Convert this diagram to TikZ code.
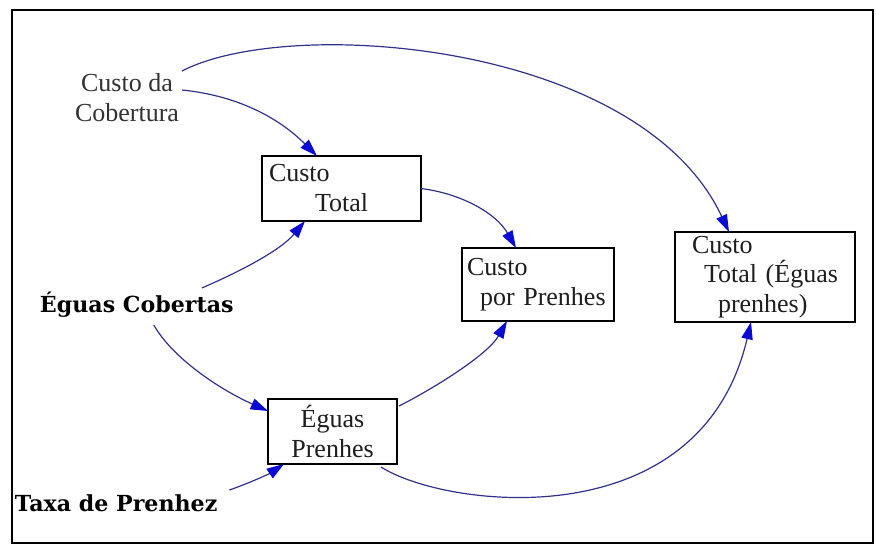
\documentclass[tikz,border=0pt]{standalone}
\usepackage{fontspec}
\setmainfont{Liberation Serif}
\newfontfamily\labfont{DejaVu Serif}
\usetikzlibrary{arrows.meta}
\definecolor{linkblue}{RGB}{50,50,140}
\definecolor{tipblue}{RGB}{10,10,210}
\definecolor{boxtext}{RGB}{30,30,30}
\definecolor{cctext}{RGB}{50,50,50}
\newcommand\boxfont{\fontsize{19.5pt}{22.5pt}\selectfont}
\newcommand\labsize{\labfont\bfseries\fontsize{16.6pt}{19pt}\selectfont}
\begin{document}
\begin{tikzpicture}[x=0.75pt,y=-0.75pt,
  box/.style={draw=black, line width=1.1pt, rectangle, inner ysep=0pt, outer sep=0pt, font=\boxfont, text=boxtext},
  conn/.style={draw=linkblue, line width=0.9pt, -{Triangle[length=13pt,width=8.5pt,color=tipblue]}},
  boldlabel/.style={font=\labsize, inner sep=0pt, outer sep=0pt, text=black}]
\useasboundingbox (0,0) rectangle (876,546);
\fill[white] (0,0) rectangle (876,546);
\draw[line width=2.2pt] (12,10) rectangle (873,543);

% nodes
\node[font=\boxfont, text=cctext, align=center, inner sep=0pt, outer sep=0pt, anchor=north] (cc) at (127,73) {Custo da\\Cobertura};
\node[boldlabel, anchor=base west] (ec) at (40,312) {Éguas Cobertas};
\node[boldlabel, anchor=base west] (tp) at (15,511) {Taxa de Prenhez};

\node[box, text width=108.75pt, inner xsep=5.25pt, minimum height=48.75pt, align=left] (ct) at (341.5,188.5)
  {Custo\\\hspace*{34.5pt}Total};
\node[box, text width=106.5pt, inner xsep=3.75pt, minimum height=54.75pt, align=left] (cp) at (538,284.5)
  {Custo\\\hspace*{9.75pt}por Prenhes};
\node[box, text width=129pt, inner xsep=3pt, minimum height=67.5pt, align=left,
      font=\fontsize{19.5pt}{22pt}\selectfont] (cte) at (765,277)
  {\hspace*{9.75pt}Custo\\\hspace*{18.75pt}Total (Éguas\\\hspace*{29.25pt}prenhes)};
\node[box, text width=96.75pt, inner xsep=0pt, minimum height=48.75pt, align=center] (ep) at (332.5,431.5)
  {Éguas\\Prenhes};

% connectors
\draw[conn] ([shift={(3,17)}]cc.north east) .. controls +(60,6) and +(-35,-35) .. ([shift={(-24.5,0)}]ct.north);
\draw[conn] ([shift={(3,-2)}]cc.north east) .. controls +(108,-56) and +(-89,-190) .. ([shift={(-36,0)}]cte.north);
\draw[conn] ([shift={(65,-24)}]ec.base) .. controls +(35,-15) and +(-25,30) .. ([shift={(-36.5,0)}]ct.south);
\draw[conn] ([shift={(17,13)}]ec.base) .. controls +(20,35) and +(-45,-20) .. ([shift={(0,-20.5)}]ep.west);
\draw[conn] ([shift={(12,-21)}]tp.base east) .. controls +(20,-7) and +(-15,10) .. ([shift={(-48.5,0)}]ep.south);
\draw[conn] (ct.east) .. controls +(40,5) and +(-20,-35) .. ([shift={(-22,0)}]cp.north);
\draw[conn] ([shift={(2,-25.5)}]ep.east) .. controls +(30,-15) and +(-20,35) .. ([shift={(-31,0)}]cp.south);
\draw[conn] ([shift={(-16,3)}]ep.south east) .. controls +(64,41) and +(-51,218) .. ([shift={(-14,0)}]cte.south);
\end{tikzpicture}
\end{document}
